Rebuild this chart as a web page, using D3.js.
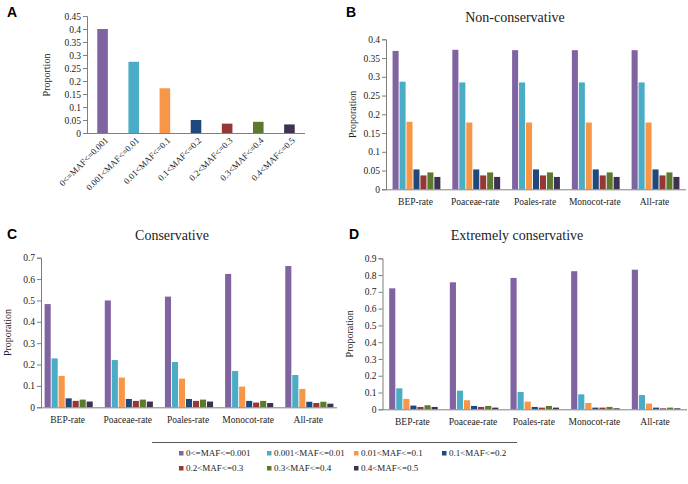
<!DOCTYPE html>
<html>
<head>
<meta charset="utf-8">
<script src="https://cdn.jsdelivr.net/npm/d3@7"></script>
<style>
  html, body { margin: 0; padding: 0; background: #fff; }
  svg { display: block; }
  text { font-family: "Liberation Serif", "Times New Roman", serif; fill: #222; }
  .letter { font-family: "Liberation Sans", Arial, sans-serif; font-weight: bold; font-size: 14px; fill: #000; }
</style>
</head>
<body>
<svg id="chart" width="688" height="484"></svg>
<script>
// ---------- data ----------
const mafBins = ["0<=MAF<=0.001", "0.001<MAF<=0.01", "0.01<MAF<=0.1", "0.1<MAF<=0.2",
                 "0.2<MAF<=0.3", "0.3<MAF<=0.4", "0.4<MAF<=0.5"];
const binColors = ["#8064A2", "#4BACC6", "#F79646", "#1F497D", "#953735", "#5B7A2E", "#3F3151"];
const rateGroups = ["BEP-rate", "Poaceae-rate", "Poales-rate", "Monocot-rate", "All-rate"];

const panelAValues = [0.400, 0.274, 0.172, 0.050, 0.036, 0.043, 0.033];

const nonConservative = [
  [0.369, 0.287, 0.180, 0.053, 0.037, 0.045, 0.033],
  [0.372, 0.285, 0.178, 0.053, 0.037, 0.045, 0.033],
  [0.371, 0.285, 0.178, 0.053, 0.037, 0.045, 0.033],
  [0.371, 0.285, 0.178, 0.053, 0.037, 0.045, 0.033],
  [0.371, 0.285, 0.178, 0.053, 0.037, 0.045, 0.033]
];
const conservative = [
  [0.483, 0.229, 0.147, 0.042, 0.030, 0.036, 0.027],
  [0.500, 0.221, 0.139, 0.039, 0.030, 0.036, 0.027],
  [0.518, 0.212, 0.134, 0.039, 0.030, 0.036, 0.027],
  [0.624, 0.170, 0.097, 0.030, 0.022, 0.030, 0.020],
  [0.661, 0.151, 0.086, 0.026, 0.020, 0.026, 0.017]
];
const extremelyConservative = [
  [0.721, 0.125, 0.062, 0.022, 0.014, 0.024, 0.014],
  [0.757, 0.111, 0.054, 0.020, 0.014, 0.020, 0.010],
  [0.783, 0.103, 0.046, 0.014, 0.010, 0.020, 0.010],
  [0.823, 0.089, 0.038, 0.010, 0.010, 0.014, 0.006],
  [0.832, 0.085, 0.034, 0.010, 0.006, 0.010, 0.006]
];

const ticksA = [0, 0.05, 0.1, 0.15, 0.2, 0.25, 0.3, 0.35, 0.4, 0.45];
const ticksB = [0, 0.05, 0.1, 0.15, 0.2, 0.25, 0.3, 0.35, 0.4];
const ticksC = [0, 0.1, 0.2, 0.3, 0.4, 0.5, 0.6, 0.7];
const ticksD = [0, 0.1, 0.2, 0.3, 0.4, 0.5, 0.6, 0.7, 0.8, 0.9];

// ---------- drawing ----------
const svg = d3.select("#chart");
const axisColor = "#7f7f7f";
const fmt = v => String(+v.toFixed(2));

function yAxis(g, y, ticks, x0) {
  const ax = g.append("g").attr("transform", `translate(${x0},0)`)
    .call(d3.axisLeft(y).tickValues(ticks).tickFormat(fmt).tickSize(4).tickPadding(2));
  ax.select(".domain").attr("stroke", axisColor);
  ax.selectAll(".tick line").attr("stroke", axisColor);
  ax.selectAll(".tick text").attr("font-family", "Liberation Serif, serif")
    .attr("font-size", 9.5).attr("fill", "#222");
  return ax;
}

function xAxisLine(g, x0, x1, yb) {
  g.append("line").attr("x1", x0).attr("x2", x1).attr("y1", yb).attr("y2", yb)
    .attr("stroke", axisColor).attr("stroke-width", 1);
}

// Panel A
(function () {
  const g = svg.append("g");
  const x = d3.scaleBand().domain(mafBins).range([87, 305]).paddingInner(0.66).paddingOuter(0.33);
  const y = d3.scaleLinear().domain([0, 0.45]).range([133, 16]);
  g.selectAll("rect").data(panelAValues).join("rect")
    .attr("x", (d, i) => x(mafBins[i]))
    .attr("width", x.bandwidth())
    .attr("y", d => y(d))
    .attr("height", d => y(0) - y(d))
    .attr("fill", (d, i) => binColors[i]);
  yAxis(g, y, ticksA, 87);
  xAxisLine(g, 87, 305, 133.5);
  g.selectAll("text.xl").data(mafBins).join("text").attr("class", "xl")
    .attr("transform", d => `translate(${x(d) + x.bandwidth() / 2 + 6},${141}) rotate(-45)`)
    .attr("text-anchor", "end").attr("font-size", 9).text(d => d);
  g.append("text").attr("transform", "translate(50,75) rotate(-90)")
    .attr("text-anchor", "middle").attr("font-size", 10).text("Proportion");
  g.append("text").attr("class", "letter").attr("x", 7).attr("y", 17).text("A");
})();

function groupedPanel(opts) {
  const g = svg.append("g");
  const x0 = d3.scaleBand().domain(rateGroups).range([opts.left, opts.right])
    .paddingInner(opts.pi).paddingOuter(opts.po);
  const x1 = d3.scaleBand().domain(mafBins).range([0, x0.bandwidth()]).paddingInner(0.13).paddingOuter(0);
  const y = d3.scaleLinear().domain([0, opts.max]).range([opts.bottom, opts.top]);
  const groups = g.selectAll("g.grp").data(opts.values).join("g").attr("class", "grp")
    .attr("transform", (d, i) => `translate(${x0(rateGroups[i])},0)`);
  groups.selectAll("rect").data(d => d).join("rect")
    .attr("x", (d, i) => x1(mafBins[i]))
    .attr("width", x1.bandwidth())
    .attr("y", d => y(d))
    .attr("height", d => y(0) - y(d))
    .attr("fill", (d, i) => binColors[i]);
  yAxis(g, y, opts.ticks, opts.left);
  xAxisLine(g, opts.left, opts.right, opts.bottom + 0.5);
  g.selectAll("text.gl").data(rateGroups).join("text").attr("class", "gl")
    .attr("x", d => x0(d) + x0.bandwidth() / 2 - 1)
    .attr("y", opts.bottom + 16)
    .attr("text-anchor", "middle").attr("font-size", 9.5).text(d => d);
  g.append("text").attr("transform", `translate(${opts.left - 30},${(opts.top + opts.bottom) / 2}) rotate(-90)`)
    .attr("text-anchor", "middle").attr("font-size", 10).text("Proporation");
  g.append("text").attr("x", opts.titleX).attr("y", opts.titleY)
    .attr("text-anchor", "middle").attr("font-size", 14).attr("fill", "#111").text(opts.title);
  g.append("text").attr("class", "letter").attr("x", opts.letterX).attr("y", opts.letterY).text(opts.letter);
}

groupedPanel({ values: nonConservative, ticks: ticksB, max: 0.4, left: 386, right: 686, top: 39.3, bottom: 189.3,
  pi: 0.2, po: 0.11, title: "Non-conservative", titleX: 515, titleY: 22, letter: "B", letterX: 346, letterY: 17 });
groupedPanel({ values: conservative, ticks: ticksC, max: 0.7, left: 41, right: 337, top: 257.7, bottom: 407.3,
  pi: 0.2, po: 0.06, title: "Conservative", titleX: 172, titleY: 240, letter: "C", letterX: 7, letterY: 239 });
groupedPanel({ values: extremelyConservative, ticks: ticksD, max: 0.9, left: 382.5, right: 687, top: 258.3, bottom: 409.3,
  pi: 0.2, po: 0.11, title: "Extremely conservative", titleX: 517, titleY: 240, letter: "D", letterX: 349, letterY: 239 });

// Legend
(function () {
  const g = svg.append("g");
  g.append("line").attr("x1", 152).attr("x2", 517).attr("y1", 442.5).attr("y2", 442.5)
    .attr("stroke", "#555").attr("stroke-width", 1);
  const colX = [179, 267, 354, 442];
  const rowY = [456, 471];
  const items = g.selectAll("g.li").data(mafBins).join("g").attr("class", "li")
    .attr("transform", (d, i) => `translate(${colX[i % 4]},${rowY[Math.floor(i / 4)]})`);
  items.append("rect").attr("x", 0).attr("y", -5).attr("width", 4.5).attr("height", 4.5)
    .attr("fill", (d, i) => binColors[i]);
  items.append("text").attr("x", 7).attr("y", 0).attr("font-size", 9).text(d => d);
})();
</script>
</body>
</html>
